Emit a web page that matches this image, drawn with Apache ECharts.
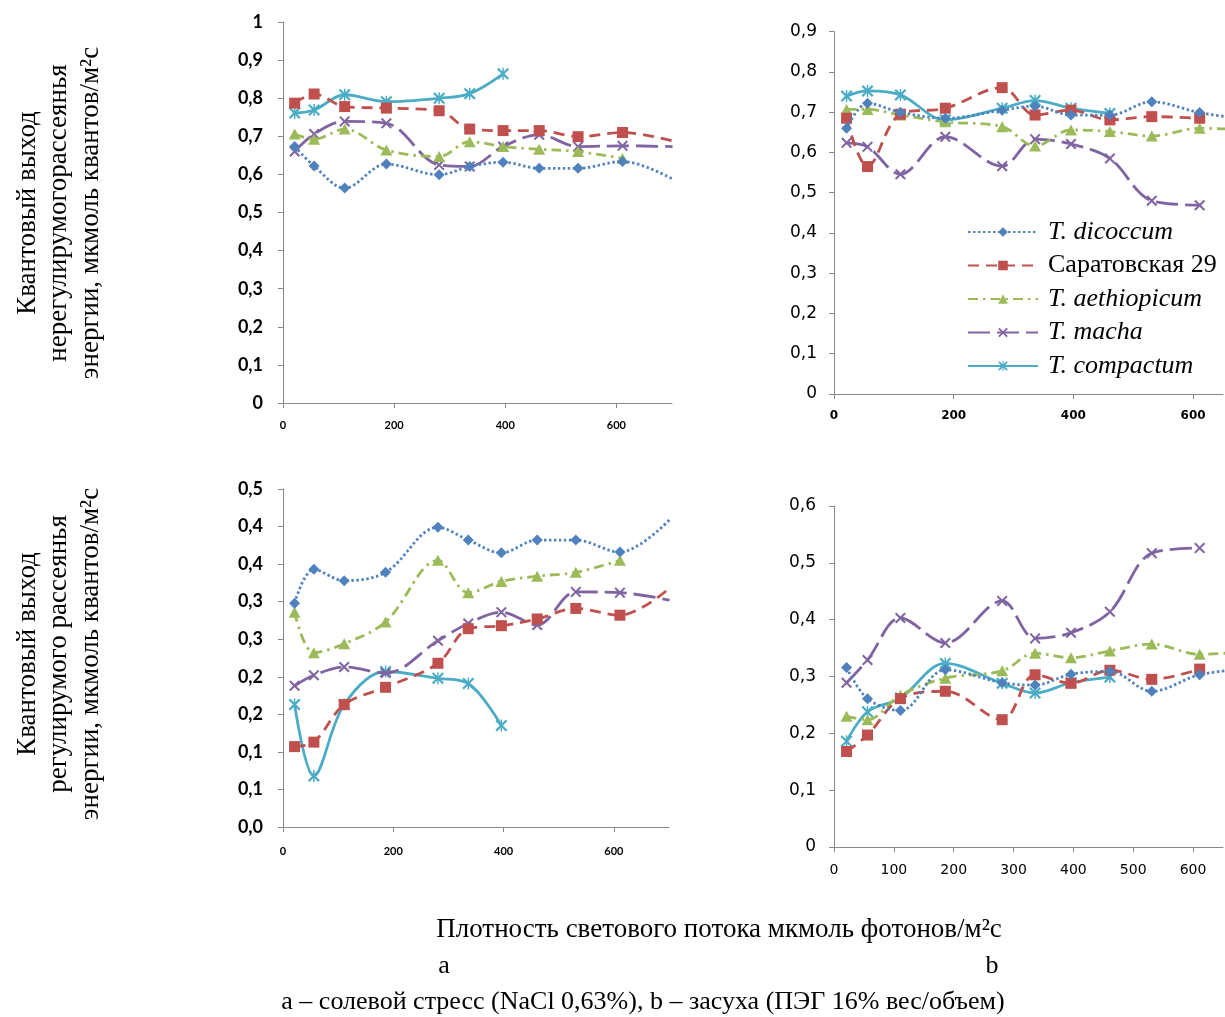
<!DOCTYPE html>
<html>
<head>
<meta charset="utf-8">
<script src="https://cdn.jsdelivr.net/npm/echarts@6/dist/echarts.min.js"></script>
<style>
html,body{margin:0;padding:0;background:#fff;}
#chart{width:1225px;height:1017px;}
</style>
</head>
<body>
<div id="chart"></div>
<script>
// Light intensity (x) values, µmol photons/m²s
const X = [21, 56, 111, 186, 281, 336, 396, 461, 531, 611, 701];

const seriesNames = ['T. dicoccum', 'Саратовская 29', 'T. aethiopicum', 'T. macha', 'T. compactum'];

// Panel a, top: non-regulated quantum yield (salt stress)
const dicA1 = [0.673, 0.622, 0.564, 0.627, 0.599, 0.621, 0.632, 0.616, 0.616, 0.634, 0.588];
const sarA1 = [0.787, 0.811, 0.778, 0.774, 0.767, 0.719, 0.715, 0.715, 0.699, 0.710, 0.688];
const aetA1 = [0.706, 0.692, 0.719, 0.664, 0.647, 0.686, 0.673, 0.666, 0.660, 0.642];
const macA1 = [0.660, 0.706, 0.739, 0.734, 0.625, 0.621, 0.673, 0.704, 0.673, 0.675, 0.673];
const comA1 = [0.761, 0.769, 0.809, 0.791, 0.800, 0.812, 0.864];

// Panel b, top: non-regulated quantum yield (drought)
const dicB1 = [0.660, 0.722, 0.700, 0.685, 0.705, 0.715, 0.693, 0.693, 0.726, 0.699, 0.680];
const sarB1 = [0.685, 0.565, 0.695, 0.710, 0.761, 0.693, 0.705, 0.681, 0.689, 0.685];
const aetB1 = [0.707, 0.707, 0.693, 0.676, 0.664, 0.616, 0.656, 0.652, 0.641, 0.660, 0.655];
const macB1 = [0.624, 0.614, 0.546, 0.639, 0.566, 0.633, 0.621, 0.585, 0.480, 0.469];
const comB1 = [0.740, 0.753, 0.743, 0.681, 0.710, 0.729, 0.710, 0.697];

// Panel a, bottom: regulated quantum yield (salt stress)
const dicA2 = [0.298, 0.343, 0.328, 0.339, 0.399, 0.382, 0.365, 0.382, 0.382, 0.366, 0.409];
const sarA2 = [0.107, 0.113, 0.163, 0.186, 0.218, 0.264, 0.268, 0.277, 0.291, 0.282, 0.318];
const aetA2 = [0.286, 0.232, 0.244, 0.273, 0.355, 0.312, 0.327, 0.334, 0.339, 0.355];
const macA2 = [0.188, 0.202, 0.213, 0.205, 0.248, 0.271, 0.286, 0.269, 0.313, 0.312, 0.302];
const comA2 = [0.163, 0.068, 0.163, 0.207, 0.198, 0.191, 0.135];

// Panel b, bottom: regulated quantum yield (drought)
const dicB2 = [0.316, 0.261, 0.240, 0.312, 0.289, 0.285, 0.304, 0.309, 0.274, 0.303, 0.315];
const sarB2 = [0.168, 0.197, 0.261, 0.274, 0.224, 0.303, 0.288, 0.311, 0.295, 0.313];
const aetB2 = [0.230, 0.224, 0.267, 0.297, 0.310, 0.341, 0.333, 0.345, 0.357, 0.339, 0.345];
const macB2 = [0.289, 0.329, 0.403, 0.359, 0.433, 0.367, 0.377, 0.414, 0.517, 0.526];
const comB2 = [0.186, 0.238, 0.262, 0.323, 0.288, 0.271, 0.289, 0.299];

// Tick labels
const yTicksA1 = ['0', '0,1', '0,2', '0,3', '0,4', '0,5', '0,6', '0,7', '0,8', '0,9', '1'];
const yTicksB1 = ['0', '0,1', '0,2', '0,3', '0,4', '0,5', '0,6', '0,7', '0,8', '0,9'];
const yTicksA2 = ['0,0', '0,1', '0,1', '0,2', '0,2', '0,3', '0,3', '0,4', '0,4', '0,5'];
const yTicksB2 = ['0', '0,1', '0,2', '0,3', '0,4', '0,5', '0,6'];
const xTicksLeft = ['0', '200', '400', '600'];
const xTicksB1 = ['0', '200', '400', '600'];
const xTicksB2 = ['0', '100', '200', '300', '400', '500', '600'];

const panels = [
  [dicA1, sarA1, aetA1, macA1, comA1],
  [dicB1, sarB1, aetB1, macB1, comB1],
  [dicA2, sarA2, aetA2, macA2, comA2],
  [dicB2, sarB2, aetB2, macB2, comB2]
];

const colors = ['#4F81BD', '#C0504D', '#9BBB59', '#8064A2', '#4BACC6'];
const crossPath = 'path://M0,1.3L1.3,0L5,3.7L8.7,0L10,1.3L6.3,5L10,8.7L8.7,10L5,6.3L1.3,10L0,8.7L3.7,5Z';
const starPath = 'path://M0,1.3L1.3,0L5,3.7L8.7,0L10,1.3L6.3,5L10,8.7L8.7,10L5,6.3L1.3,10L0,8.7L3.7,5Z M4.4,0L5.6,0L5.6,10L4.4,10Z';
const styles = [
  { symbol: 'diamond', size: 11, dash: [2.4, 2.6], width: 2.8 },
  { symbol: 'rect', size: 11, dash: [11, 7], width: 2.8 },
  { symbol: 'triangle', size: [12, 11], dash: [10, 5, 2.5, 5], width: 2.8 },
  { symbol: crossPath, size: 11, dash: [22, 7], width: 2.8 },
  { symbol: starPath, size: 12, dash: 'solid', width: 2.8 }
];

const grids = [
  { left: 283, top: 22, width: 389, height: 381 },
  { left: 834, top: 31.7, width: 389, height: 362.3 },
  { left: 283, top: 489, width: 386, height: 338 },
  { left: 834, top: 506, width: 389, height: 341 }
];

const axisLineStyle = { show: true, lineStyle: { color: '#888888', width: 1 } };
const axisTickStyle = { show: true, length: 5, lineStyle: { color: '#888888', width: 1 } };

function labFmt(list, interval) {
  return function (v) {
    const i = Math.round(v / interval);
    return list[i] !== undefined ? list[i] : '';
  };
}

const xAxes = [
  { gridIndex: 0, type: 'value', min: 0, max: 700, interval: 200,
    axisLabel: { showMaxLabel: false, formatter: labFmt(xTicksLeft, 200), fontFamily: 'Lato', fontWeight: 'bold', fontSize: 11, color: '#000', margin: 17 } },
  { gridIndex: 1, type: 'value', min: 0, max: 650, interval: 200,
    axisLabel: { showMaxLabel: false, formatter: labFmt(xTicksB1, 200), fontFamily: 'DejaVu Sans', fontWeight: 'bold', fontSize: 12, color: '#000', margin: 16 } },
  { gridIndex: 2, type: 'value', min: 0, max: 700, interval: 200,
    axisLabel: { showMaxLabel: false, formatter: labFmt(xTicksLeft, 200), fontFamily: 'Lato', fontWeight: 'bold', fontSize: 11, color: '#000', margin: 19 } },
  { gridIndex: 3, type: 'value', min: 0, max: 650, interval: 100,
    axisLabel: { showMaxLabel: false, formatter: labFmt(xTicksB2, 100), fontFamily: 'DejaVu Sans', fontSize: 14, color: '#000', margin: 16 } }
].map(a => Object.assign(a, { axisLine: axisLineStyle, axisTick: axisTickStyle, splitLine: { show: false } }));

const yAxes = [
  { gridIndex: 0, type: 'value', min: 0, max: 1, interval: 0.1,
    axisLabel: { formatter: labFmt(yTicksA1, 0.1), fontFamily: 'Lato', fontWeight: 'bold', fontSize: 18, color: '#000', margin: 20 } },
  { gridIndex: 1, type: 'value', min: 0, max: 0.9, interval: 0.1,
    axisLabel: { formatter: labFmt(yTicksB1, 0.1), fontFamily: 'DejaVu Sans', fontSize: 17, color: '#000', margin: 17 } },
  { gridIndex: 2, type: 'value', min: 0, max: 0.45, interval: 0.05,
    axisLabel: { formatter: labFmt(yTicksA2, 0.05), fontFamily: 'Lato', fontWeight: 'bold', fontSize: 18, color: '#000', margin: 20 } },
  { gridIndex: 3, type: 'value', min: 0, max: 0.6, interval: 0.1,
    axisLabel: { formatter: labFmt(yTicksB2, 0.1), fontFamily: 'DejaVu Sans', fontSize: 17, color: '#000', margin: 18 } }
].map(a => Object.assign(a, { axisLine: axisLineStyle, axisTick: axisTickStyle, splitLine: { show: false } }));

const series = [];
panels.forEach((vals, p) => {
  vals.forEach((arr, s) => {
    const st = styles[s];
    series.push({
      name: seriesNames[s],
      type: 'line',
      xAxisIndex: p,
      yAxisIndex: p,
      data: arr.map((v, i) => [X[i], v]),
      smooth: 0.35,
      clip: true,
      symbol: st.symbol,
      symbolSize: st.size,
      showSymbol: true,
      itemStyle: { color: colors[s] },
      lineStyle: { color: colors[s], width: st.width, type: st.dash },
      z: 2 + (4 - s)
    });
  });
});

const serif = '"Liberation Serif", "Times New Roman", serif';
function vtext(x, y, t) {
  return { type: 'text', x: x, y: y, rotation: Math.PI / 2,
    style: { text: t, font: '27px ' + serif, fill: '#000', align: 'center', verticalAlign: 'middle', textAlign: 'center', textVerticalAlign: 'middle' } };
}
function htext(x, y, t, size) {
  return { type: 'text', x: x, y: y,
    style: { text: t, font: size + 'px ' + serif, fill: '#000', align: 'center', verticalAlign: 'middle', textAlign: 'center', textVerticalAlign: 'middle' } };
}

const option = {
  animation: false,
  backgroundColor: '#ffffff',
  color: colors,
  grid: grids,
  xAxis: xAxes,
  yAxis: yAxes,
  series: series,
  legend: {
    data: seriesNames,
    orient: 'vertical',
    left: 967,
    top: 219,
    padding: 0,
    itemWidth: 70,
    itemHeight: 12,
    itemGap: 7.5,
    formatter: function (name) {
      return name.indexOf('T.') === 0 ? '{i|' + name + '}' : '{n|' + name + '}';
    },
    textStyle: {
      color: '#000',
      padding: [0, 0, 0, 5],
      rich: {
        i: { fontFamily: serif, fontStyle: 'italic', fontSize: 26, lineHeight: 26, color: '#000' },
        n: { fontFamily: serif, fontSize: 26, lineHeight: 26, color: '#000' }
      }
    }
  },
  graphic: [
    vtext(28, 213, 'Квантовый выход'),
    vtext(59, 213, 'нерегулирумогорассеянья'),
    vtext(91, 213, 'энергии, мкмоль квантов/м²с'),
    vtext(28, 654, 'Квантовый выход'),
    vtext(59, 654, 'регулирумого рассеянья'),
    vtext(91, 654, 'энергии, мкмоль квантов/м²с'),
    htext(719, 930, 'Плотность светового потока мкмоль фотонов/м²с', 27),
    htext(444, 966, 'а', 26),
    htext(992, 966, 'b', 26),
    htext(643, 1002, 'а – солевой стресс (NaCl 0,63%), b – засуха (ПЭГ 16% вес/объем)', 26)
  ]
};

const chart = echarts.init(document.getElementById('chart'), null, { renderer: 'canvas' });
chart.setOption(option);
</script>
</body>
</html>
